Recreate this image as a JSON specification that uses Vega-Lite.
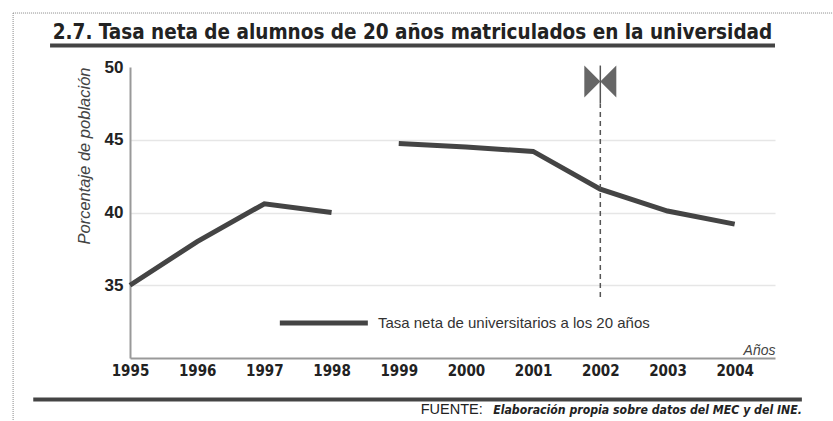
{
  "$schema": "https://vega.github.io/schema/vega-lite/v6.json",
  "autosize": "none",
  "width": 645,
  "height": 291,
  "padding": {"left": 130, "top": 67, "right": 58, "bottom": 63},
  "background": "white",
  "config": {"view": {"stroke": null}, "font": "Liberation Sans"},
  "datasets": {
    "serie": [
      {"anio": 1995, "valor": 35.0, "tramo": "A"},
      {"anio": 1996, "valor": 38.0, "tramo": "A"},
      {"anio": 1997, "valor": 40.6, "tramo": "A"},
      {"anio": 1998, "valor": 40.0, "tramo": "A"},
      {"anio": 1999, "valor": 44.75, "tramo": "B"},
      {"anio": 2000, "valor": 44.5, "tramo": "B"},
      {"anio": 2001, "valor": 44.2, "tramo": "B"},
      {"anio": 2002, "valor": 41.6, "tramo": "B"},
      {"anio": 2003, "valor": 40.1, "tramo": "B"},
      {"anio": 2004, "valor": 39.2, "tramo": "B"}
    ],
    "lineas": [
      {"x1": 1993.81, "x2": 2004.6, "y": 51.48},
      {"x1": 1993.56, "x2": 2005.0, "y": 27.15}
    ]
  },
  "layer": [
    {
      "data": {"name": "serie"},
      "mark": {"type": "line", "stroke": "#444", "strokeWidth": 5, "strokeJoin": "miter"},
      "encoding": {
        "x": {
          "field": "anio", "type": "quantitative",
          "scale": {"domain": [1995, 2004.6], "nice": false, "zero": false},
          "axis": {
            "values": [1995, 1996, 1997, 1998, 1999, 2000, 2001, 2002, 2003, 2004],
            "format": "d", "grid": false, "ticks": false,
            "domainColor": "#999", "domainWidth": 2,
            "labelFont": "DejaVu Sans Condensed", "labelFontSize": 15, "labelFontWeight": "bold",
            "labelColor": "#222", "labelPadding": 17, "labelFlush": false, "labelBaseline": "alphabetic",
            "title": "Años", "titleFont": "Liberation Sans", "titleFontStyle": "italic",
            "titleFontWeight": "normal", "titleFontSize": 14, "titleColor": "#444",
            "titleAnchor": "end", "titleAlign": "right", "titleBaseline": "alphabetic",
            "titleX": 645, "titleY": -4
          }
        },
        "y": {
          "field": "valor", "type": "quantitative",
          "scale": {"domain": [30, 50], "nice": false, "zero": false},
          "axis": {
            "values": [35, 40, 45, 50], "ticks": false,
            "domainColor": "#999", "domainWidth": 2,
            "gridColor": {"condition": {"test": "datum.value >= 50", "value": "transparent"}, "value": "#e6e6e6"},
            "gridWidth": 1.5,
            "labelFont": "Liberation Sans", "labelFontSize": 17, "labelFontWeight": "bold",
            "labelColor": "#222", "labelPadding": 7,
            "title": "Porcentaje de población", "titleFont": "Liberation Sans",
            "titleFontStyle": "italic", "titleFontWeight": "normal", "titleFontSize": 16.5,
            "titleColor": "#444", "titleAnchor": "end", "titlePadding": 12
          }
        },
        "detail": {"field": "tramo"}
      }
    },
    {
      "data": {"values": [{"anio": 2002, "y1": 34.2, "y2": 47.5}]},
      "mark": {"type": "rule", "stroke": "#555", "strokeWidth": 1.5, "strokeDash": [5, 4]},
      "encoding": {
        "x": {"field": "anio", "type": "quantitative"},
        "y": {"field": "y1", "type": "quantitative"},
        "y2": {"field": "y2"}
      }
    },
    {
      "data": {"values": [{"anio": 2002, "y1": 47.5, "y2": 50.1}]},
      "mark": {"type": "rule", "stroke": "#555", "strokeWidth": 1.5},
      "encoding": {
        "x": {"field": "anio", "type": "quantitative"},
        "y": {"field": "y1", "type": "quantitative"},
        "y2": {"field": "y2"}
      }
    },
    {
      "data": {"values": [{"anio": 2002, "y": 49.0}]},
      "mark": {"type": "point", "shape": "M-1,-1L0,0L-1,1Z M1,-1L0,0L1,1Z", "filled": true, "fill": "#666", "opacity": 1, "size": 1024},
      "encoding": {
        "x": {"field": "anio", "type": "quantitative"},
        "y": {"field": "y", "type": "quantitative"}
      }
    },
    {
      "data": {"values": [{"x1": 1997.23, "x2": 1998.54, "y": 32.4}]},
      "mark": {"type": "rule", "stroke": "#444", "strokeWidth": 5},
      "encoding": {
        "x": {"field": "x1", "type": "quantitative"},
        "x2": {"field": "x2"},
        "y": {"field": "y", "type": "quantitative"}
      }
    },
    {
      "data": {"values": [{"x": 1998.69, "y": 32.4, "t": "Tasa neta de universitarios a los 20 años"}]},
      "mark": {"type": "text", "align": "left", "baseline": "middle", "fontSize": 15, "color": "#333", "font": "Liberation Sans"},
      "encoding": {
        "x": {"field": "x", "type": "quantitative"},
        "y": {"field": "y", "type": "quantitative"},
        "text": {"field": "t"}
      }
    },
    {
      "data": {"values": [{"x": 1993.85, "y": 51.92, "t": "2.7. Tasa neta de alumnos de 20 años matriculados en la universidad"}]},
      "mark": {"type": "text", "align": "left", "baseline": "alphabetic", "fontSize": 20.5, "fontWeight": "bold", "color": "#222", "font": "DejaVu Sans Condensed"},
      "encoding": {
        "x": {"field": "x", "type": "quantitative"},
        "y": {"field": "y", "type": "quantitative"},
        "text": {"field": "t"}
      }
    },
    {
      "data": {"name": "lineas"},
      "mark": {"type": "rule", "stroke": "#444", "strokeWidth": 4},
      "encoding": {
        "x": {"field": "x1", "type": "quantitative"},
        "x2": {"field": "x2"},
        "y": {"field": "y", "type": "quantitative"}
      }
    },
    {
      "data": {"values": [{"x": 2000.25, "y": 26.15, "t": "FUENTE:"}]},
      "mark": {"type": "text", "align": "right", "baseline": "alphabetic", "fontSize": 14.5, "color": "#222", "font": "Liberation Sans"},
      "encoding": {
        "x": {"field": "x", "type": "quantitative"},
        "y": {"field": "y", "type": "quantitative"},
        "text": {"field": "t"}
      }
    },
    {
      "data": {"values": [{"x": 2005.0, "y": 26.15, "t": "Elaboración propia sobre datos del MEC y del INE."}]},
      "mark": {"type": "text", "align": "right", "baseline": "alphabetic", "fontSize": 12.2, "fontStyle": "italic", "fontWeight": "bold", "color": "#222", "font": "DejaVu Sans Condensed"},
      "encoding": {
        "x": {"field": "x", "type": "quantitative"},
        "y": {"field": "y", "type": "quantitative"},
        "text": {"field": "t"}
      }
    },
    {
      "data": {"values": [{"x1": 1993.26, "x2": 2005.5, "y1": 53.71, "y2": 25.6}]},
      "mark": {"type": "rule", "stroke": "#888", "strokeWidth": 1, "strokeDash": [1, 1]},
      "encoding": {
        "x": {"field": "x1", "type": "quantitative"},
        "x2": {"field": "x2"},
        "y": {"field": "y1", "type": "quantitative"}
      }
    },
    {
      "data": {"values": [{"x1": 1993.26, "x2": 2005.5, "y1": 53.71, "y2": 25.6}]},
      "mark": {"type": "rule", "stroke": "#888", "strokeWidth": 1, "strokeDash": [1, 1]},
      "encoding": {
        "x": {"field": "x1", "type": "quantitative"},
        "y": {"field": "y1", "type": "quantitative"},
        "y2": {"field": "y2"}
      }
    }
  ]
}
